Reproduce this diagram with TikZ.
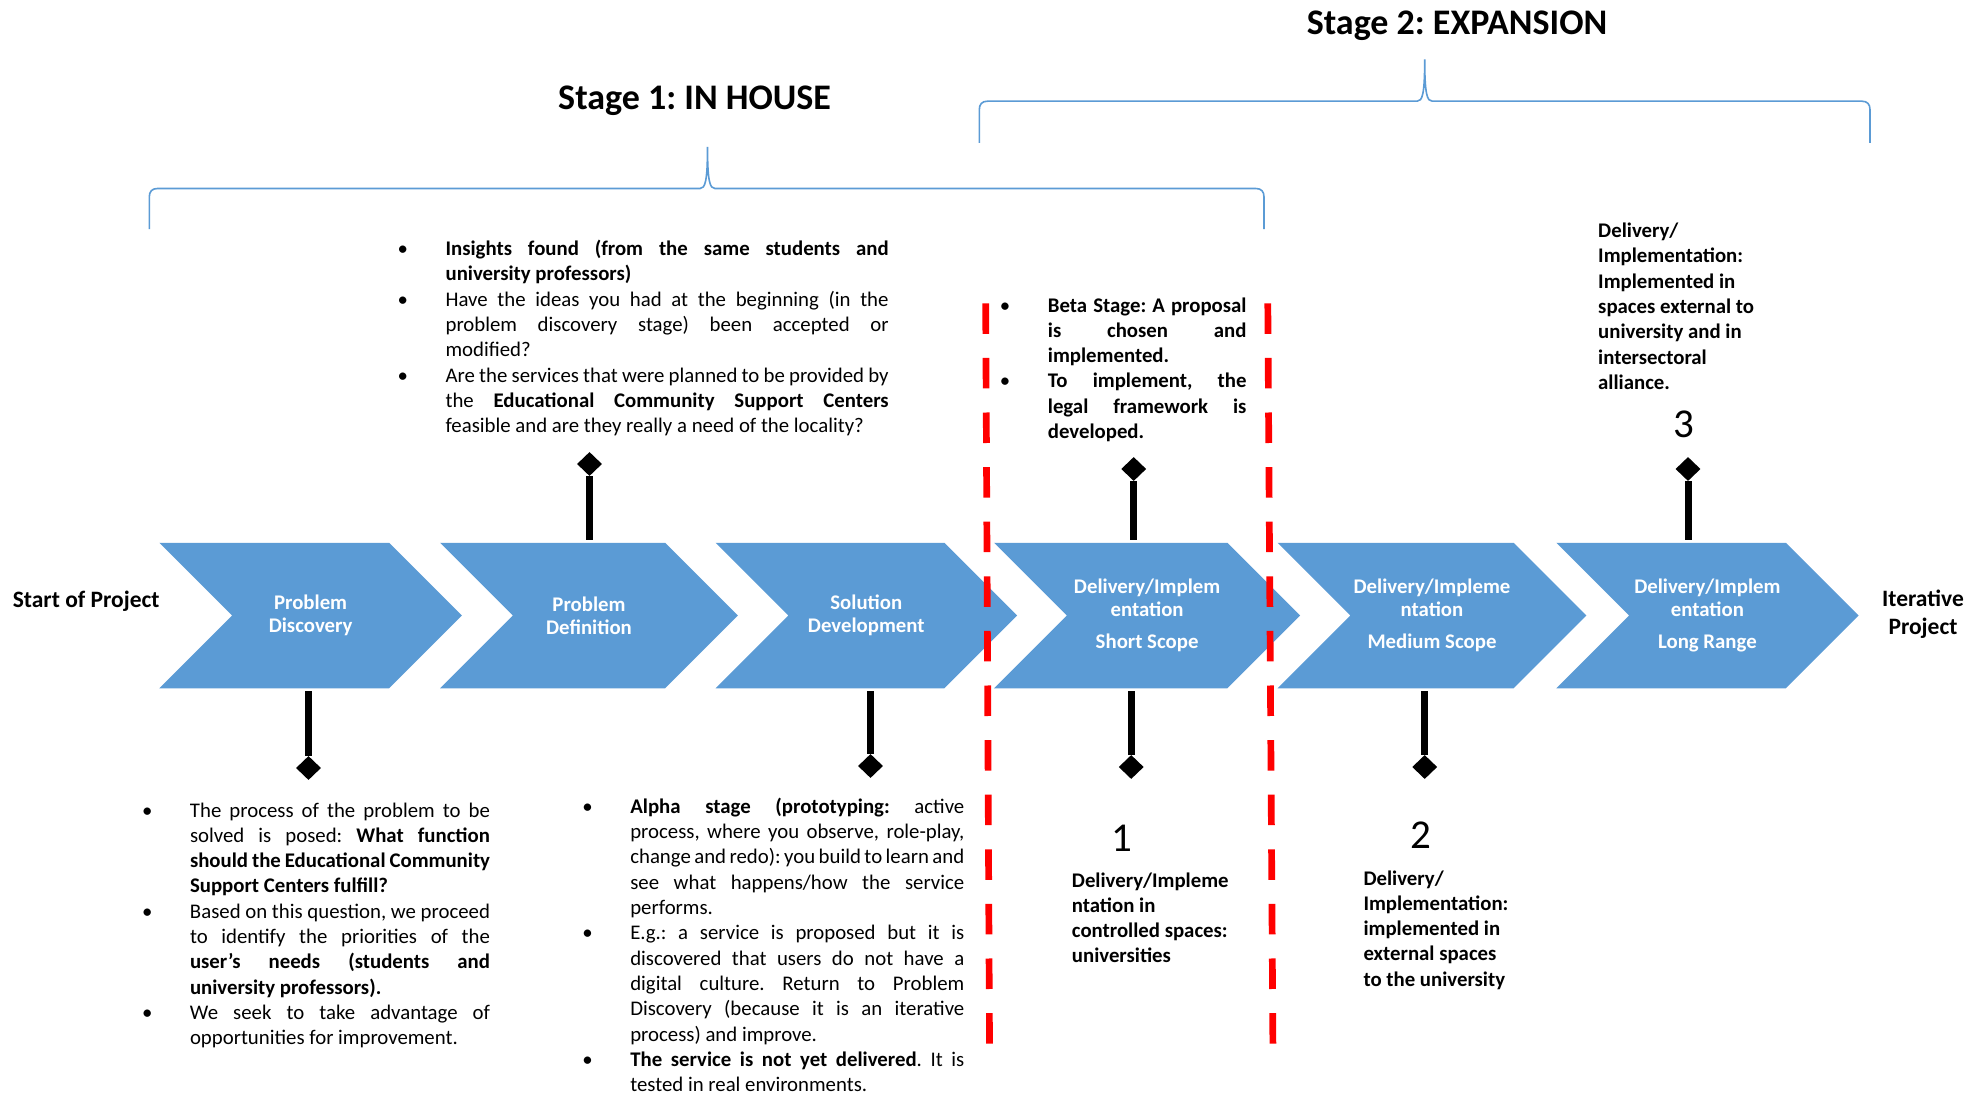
\documentclass[tikz,border=0pt]{standalone}
\usepackage{fontspec}
\setmainfont{Carlito}
\usetikzlibrary{shapes.symbols,shapes.geometric}
\definecolor{chev}{HTML}{5B9BD5}
\newcommand\jl[2]{\makebox[#1pt][s]{#2}}
\newcommand\bul{\makebox[48pt][l]{\textbullet}}
\newcommand\ind{\makebox[48pt]{}}
\newcommand\bodyfont{\fontsize{20.8pt}{25.3pt}\selectfont}
\newcommand\chevfont{\fontsize{20.8pt}{22.7pt}\selectfont\bfseries}
\frenchspacing
\begin{document}
\begin{tikzpicture}[x=1pt,y=-1pt,
  chevron/.style={signal, signal from=west, signal to=east, signal pointer angle=90,
    fill=chev, draw=none, minimum height=145.5pt, inner sep=0pt, text=white,
    font=\chevfont, align=center},
  txt/.style={inner sep=0pt, align=left, font=\bodyfont, anchor=base west},
  btxt/.style={txt, font=\bodyfont\bfseries},
  title/.style={inner sep=0pt, font=\fontsize{36pt}{43pt}\selectfont\bfseries, anchor=base},
  lab/.style={inner sep=0pt, font=\fontsize{23.5pt}{28pt}\selectfont\bfseries},
  digit/.style={inner sep=0pt, font=\fontsize{41pt}{49pt}\selectfont},
  dia/.style={diamond, fill=black, minimum width=25pt, minimum height=24pt, inner sep=0pt},
  stem/.style={line width=7pt, black, shorten >=2.5pt},
  bracel/.style={draw=chev, line width=1.6pt},
  redline/.style={red, line width=6.7pt, dash pattern=on 30.5pt off 24.1pt}]
\useasboundingbox (0,0) rectangle (1984,1097);
\fill[white] (0,0) rectangle (1984,1097);

% titles
\node[title] (s1) at (694.6,109.5) {Stage 1: IN HOUSE};
\node[title] (s2) at (1457,34.5) {Stage 2: EXPANSION};

% braces
\draw[bracel] (149.3,229) -- (149.3,197) .. controls (149.3,191.5) and (152,188.5) .. (157.5,188.5)
  -- (700,188.5) .. controls (705,188.5) and (707.5,182) .. (707.5,147)
  .. controls (707.5,182) and (710,188.5) .. (715,188.5)
  -- (1255.8,188.5) .. controls (1261.3,188.5) and (1264,191.5) .. (1264,197) -- (1264,229);
\draw[bracel] (979.3,143) -- (979.3,109.7) .. controls (979.3,104.2) and (982,101.2) .. (987.5,101.2)
  -- (1417.2,101.2) .. controls (1422.2,101.2) and (1424.7,94.7) .. (1424.7,59.5)
  .. controls (1424.7,94.7) and (1427.2,101.2) .. (1432.2,101.2)
  -- (1861.8,101.2) .. controls (1867.3,101.2) and (1870,104.2) .. (1870,109.7) -- (1870,143);

% chevrons
\node[chevron, minimum width=302.4pt] (c1) at (310.6,615.5) {Problem\\Discovery};
\node[chevron, minimum width=297.9pt] (c2) at (589.0,615.5) {Problem\\Definition};
\node[chevron, minimum width=301.4pt] (c3) at (866.3,615.5) {Solution\\Development};
\node[chevron, minimum width=305.9pt] (c4) at (1147.1,615.5) {Delivery/Implem\\entation\\[9.6pt]Short Scope};
\node[chevron, minimum width=308.6pt] (c5) at (1432.0,615.5) {Delivery/Impleme\\ntation\\[9.6pt]Medium Scope};
\node[chevron, minimum width=302.2pt] (c6) at (1707.4,615.5) {Delivery/Implem\\entation\\[9.6pt]Long Range};

\node[lab, anchor=base west] (start) at (12.6,607) {Start of Project};
\node[lab, anchor=base, align=center] (iter) at (1923,634) {Iterative\\Project};

% stems with diamonds
\node[dia] (dt2) at (589.5,464) {};
\node[dia] (dt4) at (1133.7,469) {};
\node[dia] (dt6) at (1688,469) {};
\node[dia] (db1) at (308.5,768) {};
\node[dia] (db3) at (870.5,766) {};
\node[dia] (db4) at (1131.2,767) {};
\node[dia] (db5) at (1424.7,767) {};
\draw[stem] (dt2) -- (dt2 |- c2.north);
\draw[stem] (dt4) -- (dt4 |- c4.north);
\draw[stem] (dt6) -- (dt6 |- c6.north);
\draw[stem] (db1) -- (db1 |- c1.south);
\draw[stem] (db3) -- (db3 |- c3.south);
\draw[stem] (db4) -- (db4 |- c4.south);
\draw[stem] (db5) -- (db5 |- c5.south);

% red dashed separators
\coordinate (r1t) at (985.7,303.3);
\coordinate (r1b) at (989.5,1044);
\coordinate (r2t) at (1267.8,303.3);
\coordinate (r2b) at (1272.9,1044);
\draw[redline] (r1t) -- (r1b);
\draw[redline] (r2t) -- (r2b);

% text blocks (anchor = baseline of last line)
\node[txt] (tA) at (397.4,432.6) {%
\bul\jl{443}{\textbf{Insights found (from the same students and}}\\
\ind\textbf{university professors)}\\
\bul\jl{443}{Have the ideas you had at the beginning (in the}\\
\ind\jl{443}{problem discovery stage) been accepted or}\\
\ind modified?\\
\bul\jl{443}{Are the services that were planned to be provided by}\\
\ind\jl{443}{the \textbf{Educational Community Support Centers}}\\
\ind feasible and are they really a need of the locality?};

\node[txt] (tB) at (999.7,438.5) {%
\bul\jl{198.6}{\textbf{Beta Stage: A proposal}}\\
\ind\jl{198.6}{\textbf{is chosen and}}\\
\ind\textbf{implemented.}\\
\bul\jl{198.6}{\textbf{To implement, the}}\\
\ind\jl{198.6}{\textbf{legal framework is}}\\
\ind\textbf{developed.}};

\node[btxt] (tC) at (1598,389.3) {Delivery/\\Implementation:\\Implemented in\\spaces external to\\university and in\\intersectoral\\alliance.};
\node[digit] (n3) at (1684,424) {3};

\node[txt] (tF) at (141.8,1044.7) {%
\bul\jl{300}{The process of the problem to be}\\
\ind\jl{300}{solved is posed: \textbf{What function}}\\
\ind\jl{300}{\textbf{should the Educational Community}}\\
\ind\textbf{Support Centers fulfill?}\\
\bul\jl{300}{Based on this question, we proceed}\\
\ind\jl{300}{to identify the priorities of the}\\
\ind\jl{300}{\textbf{user's needs (students and}}\\
\ind\textbf{university professors).}\\
\bul\jl{300}{We seek to take advantage of}\\
\ind opportunities for improvement.};

\node[txt] (tG) at (582.1,1091.6) {%
\bul\jl{334}{\textbf{Alpha stage (prototyping:} active}\\
\ind\jl{334}{process, where you observe, role-play,}\\
\ind\jl{334}{change and redo): you build to learn and}\\
\ind\jl{334}{see what happens/how the service}\\
\ind performs.\\
\bul\jl{334}{E.g.: a service is proposed but it is}\\
\ind\jl{334}{discovered that users do not have a}\\
\ind\jl{334}{digital culture. Return to Problem}\\
\ind\jl{334}{Discovery (because it is an iterative}\\
\ind process) and improve.\\
\bul\jl{334}{\textbf{The service is not yet delivered}. It is}\\
\ind tested in real environments.};

\node[digit] (n1) at (1122.3,838) {1};
\node[btxt] (tD) at (1071.7,962.9) {Delivery/Impleme\\ntation in\\controlled spaces:\\universities};
\node[digit] (n2) at (1420.7,835) {2};
\node[btxt] (tE) at (1363.3,986.2) {Delivery/\\Implementation:\\implemented in\\external spaces\\to the university};
\end{tikzpicture}
\end{document}
